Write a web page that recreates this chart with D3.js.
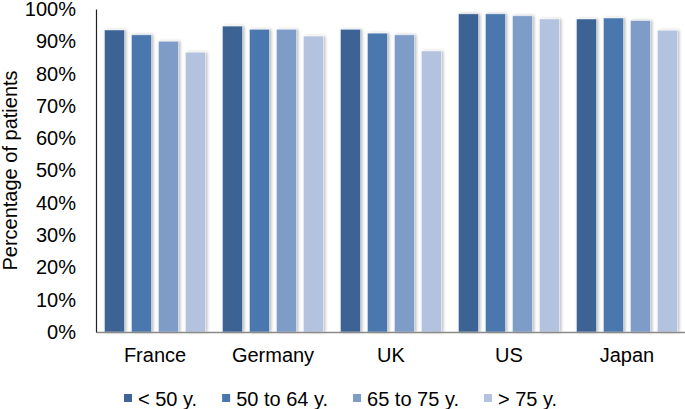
<!DOCTYPE html>
<html>
<head>
<meta charset="utf-8">
<script src="https://cdn.jsdelivr.net/npm/d3@7"></script>
<style>
  html, body { margin: 0; padding: 0; background: #fff; }
  svg { display: block; font-family: "Liberation Sans", Arial, sans-serif; }
</style>
</head>
<body>
<svg id="chart" width="685" height="409"></svg>
<script>
const categories = ["France", "Germany", "UK", "US", "Japan"];
const seriesNames = ["< 50 y.", "50 to 64 y.", "65 to 75 y.", "> 75 y."];
const seriesColors = ["#3D6494", "#4877AE", "#7E9CC8", "#B3C2DE"];
const under50 = [93.5, 94.7, 93.7, 98.5, 96.9];
const from50to64 = [92.0, 93.7, 92.5, 98.5, 97.2];
const from65to75 = [90.0, 93.7, 92.0, 97.9, 96.4];
const over75 = [86.6, 91.6, 87.0, 96.9, 93.4];
const yTicks = [0, 10, 20, 30, 40, 50, 60, 70, 80, 90, 100];
const yTitle = "Percentage of patients";

const seriesValues = [under50, from50to64, from65to75, over75];

const svg = d3.select("#chart");
const fontSize = 20;

const y = d3.scaleLinear().domain([0, 100]).range([332, 9]);
const x0 = d3.scaleBand().domain(categories).range([96, 686]).paddingInner(0).paddingOuter(0);
const x1 = d3.scaleBand().domain(seriesNames).range([0, x0.bandwidth()]).paddingInner(7 / 27).paddingOuter(0.315);

// shadow filter
const defs = svg.append("defs");
const f = defs.append("filter").attr("id", "shadow").attr("x", "-30%").attr("y", "-10%").attr("width", "170%").attr("height", "120%");
f.append("feDropShadow").attr("dx", 1.5).attr("dy", 0).attr("stdDeviation", 1.4)
  .attr("flood-color", "#000").attr("flood-opacity", 0.28);

// bars
const groups = svg.append("g").selectAll("g")
  .data(categories)
  .join("g")
  .attr("transform", d => `translate(${x0(d)},0)`);

groups.selectAll("rect")
  .data((c, ci) => seriesNames.map((s, si) => ({ s, si, v: seriesValues[si][ci] })))
  .join("rect")
  .attr("x", d => x1(d.s))
  .attr("y", d => y(d.v))
  .attr("width", x1.bandwidth())
  .attr("height", d => y(0) - y(d.v))
  .attr("fill", d => seriesColors[d.si])
  .attr("stroke", "rgba(255,255,255,0.5)")
  .attr("stroke-width", 0.8)
  .attr("filter", "url(#shadow)");

// x axis
const xAxis = svg.append("g")
  .attr("transform", `translate(0,${y(0)})`)
  .call(d3.axisBottom(x0).tickSize(0).tickPadding(16));
xAxis.select(".domain").attr("stroke", "#8a8a8a").attr("stroke-width", 1.3);
xAxis.selectAll("text").attr("font-size", fontSize).attr("fill", "#000")
  .attr("font-family", "Liberation Sans, Arial, sans-serif");

// y axis
const yAxis = svg.append("g")
  .attr("transform", `translate(96,0)`)
  .call(d3.axisLeft(y).tickValues(yTicks).tickSize(0).tickPadding(20).tickFormat(d => d + "%"));
yAxis.select(".domain").attr("stroke", "#222").attr("stroke-width", 1.2);
yAxis.selectAll("text").attr("font-size", fontSize).attr("fill", "#000")
  .attr("font-family", "Liberation Sans, Arial, sans-serif");

// y title
svg.append("text")
  .attr("transform", `translate(17,${(y(0) + y(100)) / 2}) rotate(-90)`)
  .attr("text-anchor", "middle")
  .attr("font-size", fontSize)
  .attr("fill", "#000")
  .text(yTitle);

// legend
const legend = svg.append("g");
let lx = 124;
seriesNames.forEach((s, i) => {
  legend.append("rect")
    .attr("x", lx).attr("y", 394).attr("width", 8).attr("height", 8)
    .attr("fill", seriesColors[i]);
  const t = legend.append("text")
    .attr("x", lx + 14).attr("y", 406)
    .attr("font-size", fontSize)
    .attr("fill", "#000")
    .text(s);
  lx += 14 + t.node().getComputedTextLength() + 25;
});
</script>
</body>
</html>
